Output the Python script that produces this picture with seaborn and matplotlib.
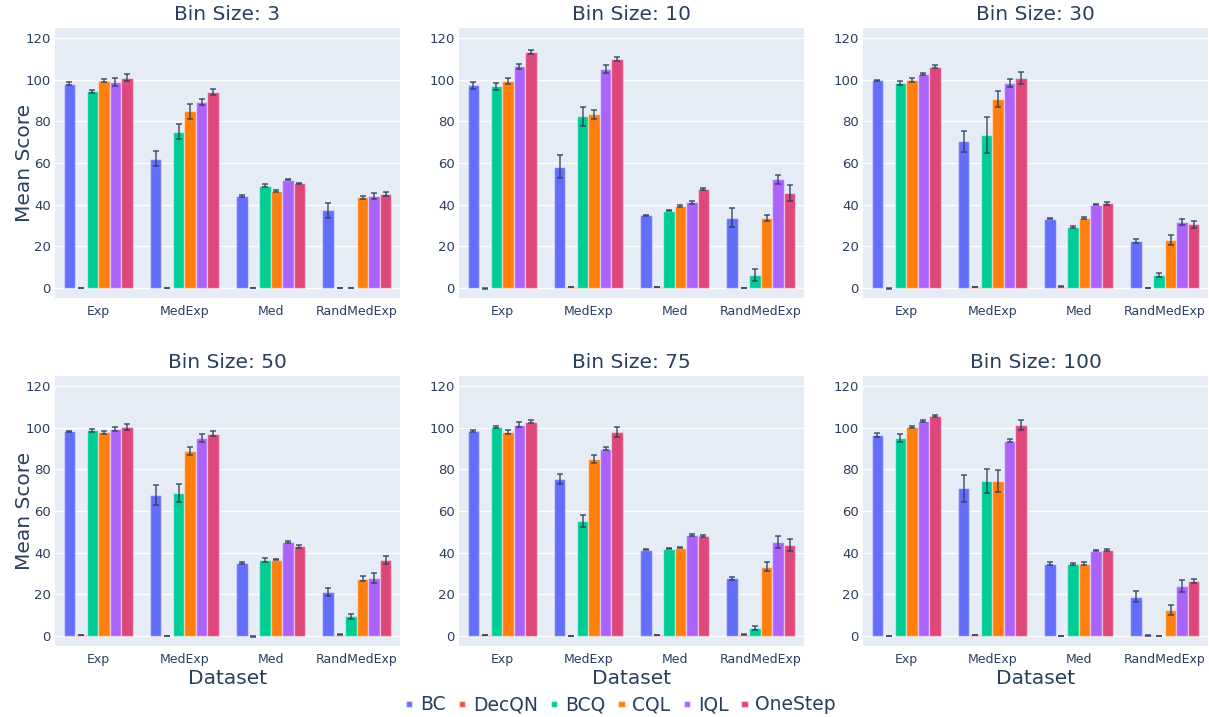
import numpy as np
import pandas as pd
import seaborn as sns
import matplotlib.pyplot as plt

# bin sizes shown in the six panels
bin_sizes = [3, 10, 30, 50, 75, 100]
datasets = ['Exp', 'MedExp', 'Med', 'RandMedExp']
algos = ['BC', 'DecQN', 'BCQ', 'CQL', 'IQL', 'OneStep']

# mean score per bin size (rows) and dataset (cols)
bc_mean = [[98.0, 62.0, 44.0, 37.2], [97.3, 58.2, 34.8, 33.7], [99.7, 70.3, 33.2, 22.5],
           [98.2, 67.6, 34.9, 21.0], [98.4, 75.3, 41.3, 27.6], [96.4, 70.8, 34.7, 18.8]]
decqn_mean = [[-0.2, 0.0, 0.0, 0.0], [-0.3, 0.4, 0.3, 0.0], [-0.3, 0.5, 0.6, 0.0],
              [0.5, -0.2, -0.3, 0.6], [0.5, 0.0, 0.4, 0.6], [0.0, 0.3, 0.0, 0.2]]
bcq_mean = [[94.3, 75.0, 49.0, 0.0], [96.8, 82.3, 37.0, 6.0], [98.5, 73.3, 29.2, 6.2],
            [98.7, 68.5, 36.4, 9.3], [100.3, 55.3, 41.8, 3.9], [95.0, 74.5, 34.4, 0.0]]
cql_mean = [[99.5, 84.7, 46.5, 43.5], [99.2, 83.3, 39.2, 33.5], [99.8, 90.7, 33.5, 23.0],
            [97.7, 88.8, 36.6, 27.5], [97.8, 85.0, 42.4, 33.2], [100.3, 74.4, 34.7, 12.5]]
iql_mean = [[99.0, 89.3, 52.0, 44.0], [106.5, 105.0, 41.0, 52.2], [102.8, 98.3, 40.0, 31.7],
            [99.3, 95.0, 45.0, 27.7], [101.5, 89.9, 48.4, 45.2], [103.2, 93.8, 40.8, 23.8]]
onestep_mean = [[101.0, 94.0, 50.2, 45.0], [113.3, 109.8, 47.3, 45.5], [106.3, 100.7, 40.5, 30.5],
                [100.5, 97.1, 43.0, 36.3], [102.9, 98.0, 47.8, 43.6], [105.5, 101.4, 41.4, 26.2]]

# error bar half widths
bc_err = [[0.7, 3.5, 0.5, 3.5], [1.7, 5.5, 0.3, 4.5], [0.3, 5.0, 0.2, 0.9],
          [0.4, 5.0, 0.4, 2.0], [0.7, 2.6, 0.2, 0.6], [1.0, 6.5, 0.8, 2.5]]
decqn_err = [[0.1, 0.1, 0.1, 0.1], [0.1, 0.1, 0.1, 0.1], [0.1, 0.1, 0.1, 0.1],
             [0.1, 0.1, 0.1, 0.1], [0.1, 0.1, 0.1, 0.1], [0.1, 0.1, 0.1, 0.1]]
bcq_err = [[0.5, 3.5, 0.7, 0.1], [1.8, 4.5, 0.3, 2.8], [1.0, 8.7, 0.6, 1.0],
           [0.6, 4.3, 0.8, 1.4], [0.5, 2.9, 0.2, 0.9], [1.7, 5.8, 0.4, 0.1]]
cql_err = [[0.7, 3.8, 0.6, 0.7], [1.5, 2.0, 0.6, 1.5], [1.0, 3.7, 0.5, 2.3],
           [0.6, 2.0, 0.3, 1.3], [1.0, 2.0, 0.2, 2.2], [0.6, 5.2, 0.7, 2.5]]
iql_err = [[2.0, 1.5, 0.4, 1.3], [1.2, 2.0, 0.9, 2.2], [0.6, 1.8, 0.2, 1.3],
           [0.9, 2.0, 0.6, 2.5], [1.4, 0.7, 0.4, 2.9], [0.4, 0.9, 0.2, 2.8]]
onestep_err = [[1.5, 1.5, 0.3, 0.8], [1.0, 1.0, 0.5, 4.0], [0.8, 3.0, 0.6, 1.8],
               [1.4, 1.3, 0.7, 1.8], [0.8, 2.5, 0.5, 2.7], [0.6, 2.5, 0.5, 0.9]]

means = [bc_mean, decqn_mean, bcq_mean, cql_mean, iql_mean, onestep_mean]
errs = [bc_err, decqn_err, bcq_err, cql_err, iql_err, onestep_err]
colors = ['#636EFA', '#EF553B', '#00CC96', '#FF7F0E', '#AB63FA', '#DE4779']

text_c = '#2a3f5f'
plt.rcParams['font.family'] = ['DejaVu Sans']

W, H = 1209, 717
fig = plt.figure(figsize=(W / 100, H / 100), dpi=100)

col_left = [55, 459, 863]
row_top = [28, 376]
ax_w, ax_h = 345, 270

for i, b in enumerate(bin_sizes):
    r, c = divmod(i, 3)
    ax = fig.add_axes([col_left[c] / W, 1 - (row_top[r] + ax_h) / H, ax_w / W, ax_h / H])
    ax.set_facecolor('#E5ECF6')

    rows = []
    for a, algo in enumerate(algos):
        for d, ds in enumerate(datasets):
            rows.append({'Dataset': ds, 'algo': algo, 'score': means[a][i][d], 'err': errs[a][i][d]})
    df = pd.DataFrame(rows)

    sns.barplot(data=df, x='Dataset', y='score', hue='algo', hue_order=algos, order=datasets,
                palette=colors, width=0.8, errorbar=None, saturation=1,
                edgecolor=(1, 1, 1, 0.45), linewidth=1, ax=ax, zorder=2)

    # error bars at each bar's centre
    bar_conts = list(ax.containers)
    for a, cont in enumerate(bar_conts):
        xs = [p.get_x() + p.get_width() / 2 for p in cont]
        ys = [p.get_height() for p in cont]
        ax.errorbar(xs, ys, yerr=errs[a][i], fmt='none', ecolor=text_c, elinewidth=1.1,
                    capsize=2.5, capthick=1.1, alpha=0.85, zorder=3)

    ax.set_ylim(-4.9, 124.8)
    ax.set_xlim(-0.5, 3.5)
    ax.set_yticks([0, 20, 40, 60, 80, 100, 120])
    ax.grid(axis='y', color='white', linewidth=1, zorder=0)
    ax.set_axisbelow(True)
    for s in ax.spines.values():
        s.set_visible(False)
    ax.tick_params(length=0, labelcolor=text_c)
    ax.tick_params(axis='y', pad=3, labelsize=9.5)
    ax.tick_params(axis='x', pad=5, labelsize=9)
    ax.set_title(f'Bin Size: {b}', fontsize=14.5, color=text_c, pad=6)
    ax.set_xlabel('Dataset' if r == 1 else '', fontsize=14.5, color=text_c, labelpad=2)
    ax.set_ylabel('Mean Score' if c == 0 else '', fontsize=14.5, color=text_c)
    ax.yaxis.set_label_coords(-0.06, 0.5)

    handles, labels = ax.get_legend_handles_labels()
    ax.get_legend().remove()

fig.legend(handles, labels, loc='center', bbox_to_anchor=(621 / W, 1 - 705 / H), ncol=6,
           frameon=False, fontsize=13.5, labelcolor=text_c, handlelength=0.35, handleheight=0.12,
           handletextpad=0.4, columnspacing=0.7)

fig.savefig('out.png', dpi=100, facecolor='white')
